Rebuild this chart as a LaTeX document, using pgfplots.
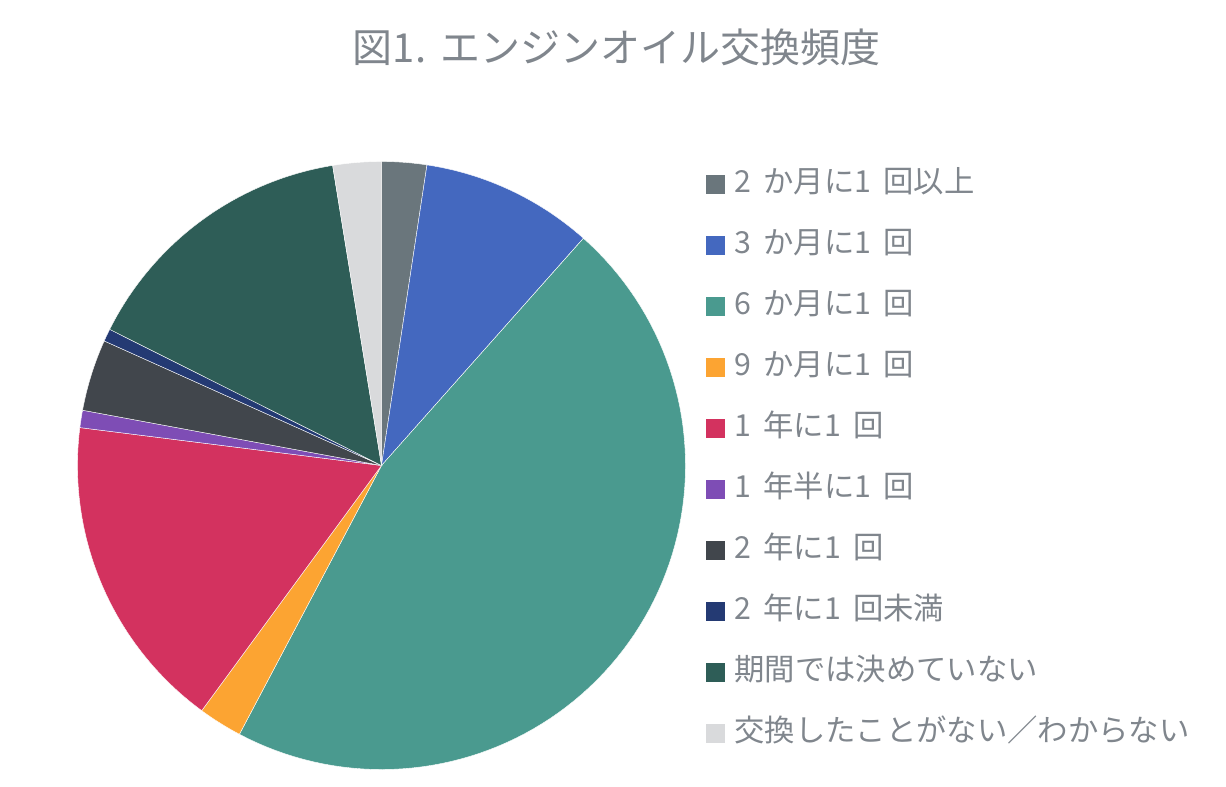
\documentclass[border=0pt]{standalone}
\usepackage{pgfplots}
\pgfplotsset{compat=1.18}
\usepackage{pgfplotstable}
\usepgfplotslibrary{polar}
\usepackage{fontspec}
\setmainfont{Noto Sans CJK JP}
\newcommand\gap{\hspace{0.4em}}

\definecolor{txt}{HTML}{80868D}
\definecolor{c0}{HTML}{6A767C}
\definecolor{c1}{HTML}{4468BF}
\definecolor{c2}{HTML}{4A9A8F}
\definecolor{c3}{HTML}{FCA432}
\definecolor{c4}{HTML}{D3325F}
\definecolor{c5}{HTML}{7E4DB5}
\definecolor{c6}{HTML}{41464C}
\definecolor{c7}{HTML}{243A73}
\definecolor{c8}{HTML}{2E5D57}
\definecolor{c9}{HTML}{D9DADC}

% shares in percent, clockwise from 12 o'clock
\pgfplotstableread[col sep=comma]{
label,share
2\gap か月に1\gap 回以上,2.39
3\gap か月に1\gap 回,9.17
6\gap か月に1\gap 回,46.18
9\gap か月に1\gap 回,2.33
1\gap 年に1\gap 回,16.92
1\gap 年半に1\gap 回,0.92
2\gap 年に1\gap 回,3.81
2\gap 年に1\gap 回未満,0.67
期間では決めていない,15.04
交換したことがない／わからない,2.57
}\shares

\begin{document}
\begin{tikzpicture}
% page: 1226 x 787 px, 1 px = 0.75 pt
\path[use as bounding box] (0pt,0pt) rectangle (919.5pt,-590.25pt);
\begin{polaraxis}[
  at={(286.125pt,-349.125pt)}, anchor=center,
  scale only axis, width=456pt, height=456pt,
  hide axis, clip=false,
  xmin=0, xmax=360, ymin=0, ymax=1,
  title={図1.\hspace{0.35em}エンジンオイル交換頻度},
  title style={at={(axis description cs:0.8865,1.156)}, anchor=center,
    font=\fontsize{30pt}{36pt}\selectfont, text=txt},
  legend cell align=left,
  legend image code/.code={\fill[#1,draw=none] (0pt,-7.1pt) rectangle (14.2pt,7.1pt);},
  legend style={at={(axis description cs:1.026,0.989)}, anchor=north west,
    draw=none, fill=none, text=txt, row sep=25.75pt,
    font=\fontsize{22.75pt}{27pt}\selectfont,
    nodes={inner sep=0pt, text height=16pt, text depth=4pt},
    /tikz/every odd column/.append style={column sep=7.5pt}},
]
\def\a{90}
\pgfplotsforeachungrouped \i in {0,...,9}{%
  \pgfplotstablegetelem{\i}{share}\of\shares
  \pgfmathsetmacro\b{\a-3.6*\pgfplotsretval}%
  \pgfplotstablegetelem{\i}{label}\of\shares
  \let\lab\pgfplotsretval
  \edef\temp{\noexpand\addplot[fill=c\i, draw=white, line width=0.3pt,
      domain=\b:\a, samples=90] ({x},{1}) -- (axis cs:0,0) -- cycle;}%
  \temp
  \expandafter\addlegendentry\expandafter{\lab}%
  \global\let\a\b
}
\end{polaraxis}
\end{tikzpicture}
\end{document}
